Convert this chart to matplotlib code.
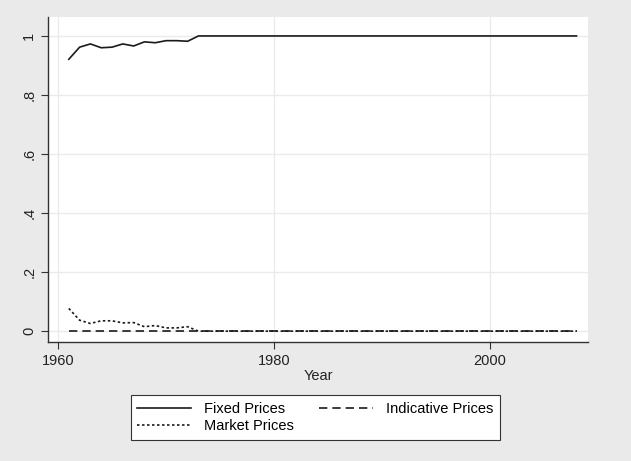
import numpy as np
import matplotlib
matplotlib.use("Agg")
import matplotlib.pyplot as plt

plt.rcParams["font.family"] = ["Liberation Sans", "DejaVu Sans"]

# data
years = list(range(1961, 2009))
fixed_early = [0.921, 0.962, 0.973, 0.960, 0.962, 0.973, 0.966, 0.980, 0.977, 0.984, 0.984, 0.982]
market_early = [0.077, 0.037, 0.026, 0.035, 0.035, 0.028, 0.029, 0.015, 0.019, 0.011, 0.011, 0.015]
n_rest = len(years) - len(fixed_early)
fixed = fixed_early + [1.0] * n_rest
market = market_early + [0.0] * n_rest
indicative = [0.0] * len(years)

y_ticks = [0, 0.2, 0.4, 0.6, 0.8, 1.0]
y_labels = ["0", ".2", ".4", ".6", ".8", "1"]
x_ticks = [1960, 1980, 2000]

bg = "#eaeaea"
fig = plt.figure(figsize=(6.31, 4.61), dpi=100, facecolor=bg)
ax = fig.add_axes([0.076, 0.258, 0.856, 0.705])
ax.set_facecolor("white")

ax.plot(years, market, color="#1a1a1a", lw=1.2, ls=(0, (1.5, 1.5)), label="Market Prices")
ax.plot(years, indicative, color="#1a1a1a", lw=1.2, ls=(0, (5, 3)), label="Indicative Prices")
ax.plot(years, fixed, color="#1a1a1a", lw=1.2, ls="-", label="Fixed Prices")

ax.set_xlim(1959.07, 2009.07)
ax.set_ylim(-0.037, 1.064)
ax.set_xticks(x_ticks)
ax.set_yticks(y_ticks)
ax.set_yticklabels(y_labels, rotation=90, va="center")
ax.grid(True, color="#ebebeb", lw=1.0)
ax.set_axisbelow(True)
for s in ["top", "right"]:
    ax.spines[s].set_visible(False)
for s in ["left", "bottom"]:
    ax.spines[s].set_color("#333333")
    ax.spines[s].set_linewidth(1.0)
ax.tick_params(direction="out", length=5, color="#333333", labelsize=10.5, labelcolor="#222222")
ax.set_xlabel("Year", fontsize=10.5, labelpad=1, color="#222222")

# legend order: Fixed, Market in column 1; Indicative in column 2
h, l = ax.get_legend_handles_labels()
order = [2, 0, 1]
leg = fig.legend([h[i] for i in order], [l[i] for i in order], ncol=2,
                 loc="center", bbox_to_anchor=(0.50, 0.094), frameon=True,
                 fancybox=False, edgecolor="#333333", facecolor="white",
                 framealpha=1, fontsize=10.5,
                 handlelength=3.7, handletextpad=0.9, columnspacing=1.7,
                 borderpad=0.45, labelspacing=0.25)
leg.get_frame().set_linewidth(0.8)

fig.savefig("out.png", dpi=100, facecolor=bg)
